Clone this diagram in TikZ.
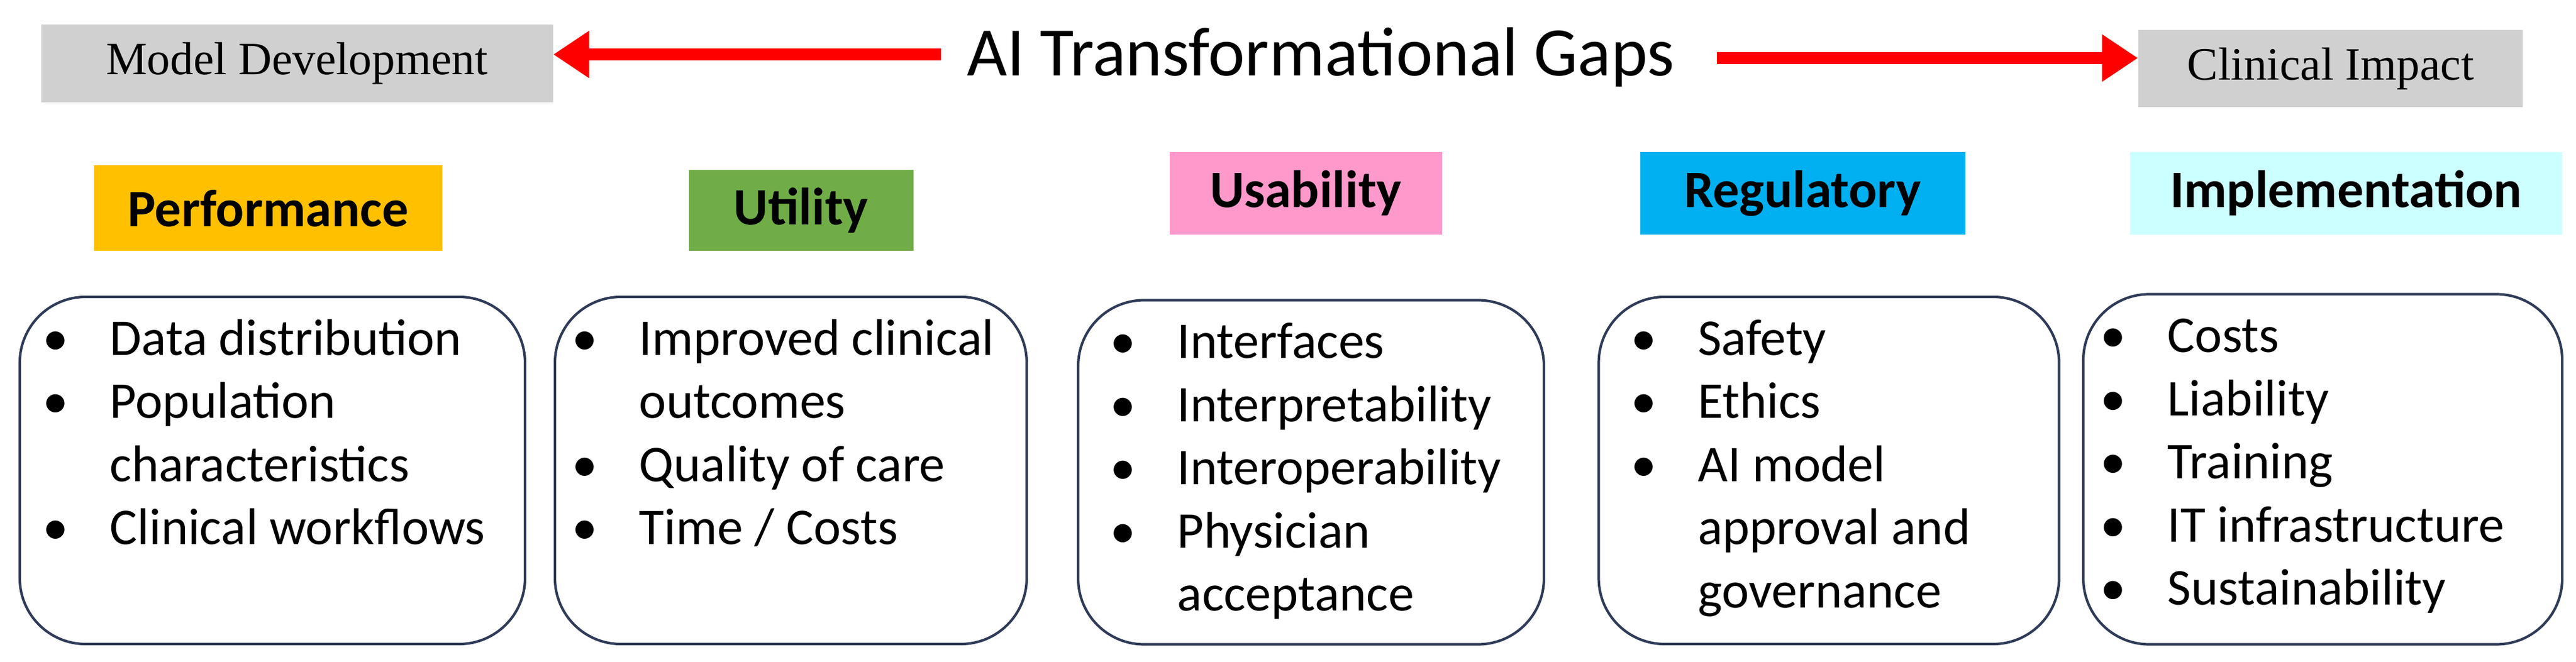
\documentclass[tikz,border=0pt]{standalone}
\usepackage{fontspec}
\setmainfont{Carlito}
\newfontfamily\timesfont{Liberation Serif}
\usetikzlibrary{arrows.meta}
\definecolor{perfcol}{HTML}{FFC000}
\definecolor{utilcol}{HTML}{70AD47}
\definecolor{usabcol}{HTML}{FF99CC}
\definecolor{regcol}{HTML}{00B0F0}
\definecolor{implcol}{HTML}{CCFFFF}
\definecolor{edgecol}{HTML}{2F3B57}
\definecolor{graycol}{HTML}{D0D0D0}
\newcommand{\itm}[1]{\textbullet & #1\\}
\newcommand{\cnt}[1]{& #1\\}
\begin{document}
\begin{tikzpicture}[
    side/.style = {fill=graycol, inner sep=0pt, font=\timesfont\fontsize{22}{26}\selectfont},
    head/.style = {inner sep=0pt, font=\bfseries\fontsize{25}{30}\selectfont},
    card/.style = {draw=edgecol, line width=1.2pt, rounded corners=1.1cm, inner sep=0pt},
    items/.style = {anchor=north west, inner sep=0pt, font=\fontsize{24.5}{30}\selectfont},
    bigarrow/.style = {draw=red, line width=0.2cm, -{Triangle[length=0.6cm,width=0.75cm]}}]
    \useasboundingbox (0,0) rectangle (43.03,-11.06);

    % top line
    \node[side, minimum width=8.55cm, minimum height=1.3cm] (model) at (4.96,-1.06) {Model Development};
    \node[side, minimum width=6.42cm, minimum height=1.29cm] (clinic) at (38.93,-1.15) {Clinical Impact};
    \node[inner sep=0pt, font=\fontsize{33}{40}\selectfont] (title) at (22.06,-0.96) {AI Transformational Gaps};
    \draw[bigarrow] (15.72,-0.91) -- (model.east |- 0,-0.91);
    \draw[bigarrow] (28.68,-0.97) -- (clinic.west |- 0,-0.97);

    % headers
    \node[head, fill=perfcol, minimum width=5.82cm, minimum height=1.43cm] (perf) at (4.48,-3.48) {Performance};
    \node[head, fill=utilcol, minimum width=3.75cm, minimum height=1.35cm] (util) at (13.38,-3.52) {Utility};
    \node[head, fill=usabcol, minimum width=4.55cm, minimum height=1.38cm] (usab) at (21.81,-3.23) {Usability};
    \node[head, fill=regcol, minimum width=5.43cm, minimum height=1.38cm] (reg) at (30.11,-3.23) {Regulatory};
    \node[head, fill=implcol, minimum width=7.22cm, minimum height=1.38cm] (impl) at (39.19,-3.23) {Implementation};

    % cards
    \node[card, minimum width=8.44cm, minimum height=5.8cm] (c1) at (4.55,-7.86) {};
    \node[card, minimum width=7.88cm, minimum height=5.8cm] (c2) at (13.21,-7.86) {};
    \node[card, minimum width=7.78cm, minimum height=5.75cm] (c3) at (21.90,-7.89) {};
    \node[card, minimum width=7.69cm, minimum height=5.8cm] (c4) at (30.55,-7.86) {};
    \node[card, minimum width=8.0cm, minimum height=5.85cm] (c5) at (38.80,-7.84) {};

    \node[items] at ([xshift=0.4cm,yshift=-0.25cm]c1.north west) {\begin{tabular}{@{}p{0.7cm}l@{}}
        \itm{Data distribution}\itm{Population}\cnt{characteristics}\itm{Clinical workflows}\end{tabular}};
    \node[items] at ([xshift=0.3cm,yshift=-0.25cm]c2.north west) {\begin{tabular}{@{}p{0.7cm}l@{}}
        \itm{Improved clinical}\cnt{outcomes}\itm{Quality of care}\itm{Time / Costs}\end{tabular}};
    \node[items] at ([xshift=0.55cm,yshift=-0.25cm]c3.north west) {\begin{tabular}{@{}p{0.7cm}l@{}}
        \itm{Interfaces}\itm{Interpretability}\itm{Interoperability}\itm{Physician}\cnt{acceptance}\end{tabular}};
    \node[items] at ([xshift=0.55cm,yshift=-0.25cm]c4.north west) {\begin{tabular}{@{}p{0.7cm}l@{}}
        \itm{Safety}\itm{Ethics}\itm{AI model}\cnt{approval and}\cnt{governance}\end{tabular}};
    \node[items] at ([xshift=0.3cm,yshift=-0.25cm]c5.north west) {\begin{tabular}{@{}p{0.7cm}l@{}}
        \itm{Costs}\itm{Liability}\itm{Training}\itm{IT infrastructure}\itm{Sustainability}\end{tabular}};
\end{tikzpicture}
\end{document}
